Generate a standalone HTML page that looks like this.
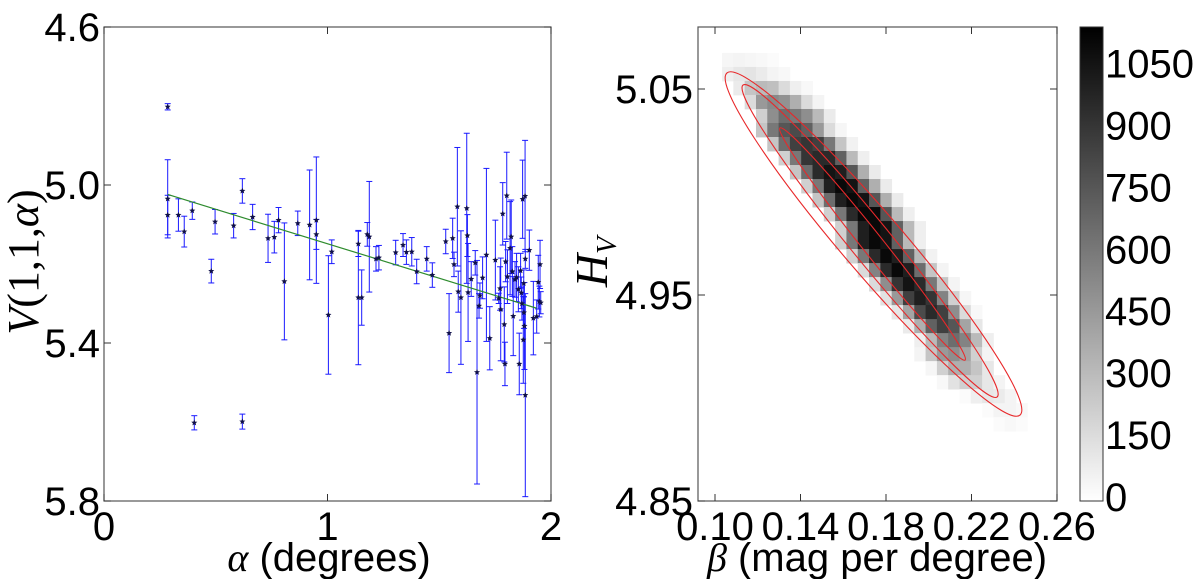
<!DOCTYPE html>
<html><head><meta charset="utf-8">
<style>
html,body{margin:0;padding:0;background:#fff;}
svg{display:block;font-family:"Liberation Sans","DejaVu Sans",sans-serif;}
</style></head>
<body>
<svg id="fig" width="1200" height="579" viewBox="0 0 1200 579" xmlns="http://www.w3.org/2000/svg">
<defs>
<linearGradient id="cbgrad" x1="0" y1="1" x2="0" y2="0">
<stop offset="0" stop-color="#ffffff"/><stop offset="1" stop-color="#000000"/>
</linearGradient>
</defs>
<g id="left"></g>
<g id="right"></g>
</svg>
<script>
// ---------- Left chart data ----------
const alphaVals = [0.285,0.285,0.285,0.333,0.359,0.395,0.404,0.480,0.497,0.580,0.619,0.619,0.665,0.734,0.762,0.781,0.807,0.867,0.920,0.950,0.950,1.004,1.019,1.138,1.138,1.153,1.178,1.187,1.217,1.230,1.305,1.338,1.353,1.377,1.399,1.444,1.469,1.529,1.544,1.560,1.566,1.581,1.585,1.597,1.623,1.626,1.629,1.643,1.661,1.669,1.678,1.682,1.694,1.711,1.726,1.751,1.766,1.772,1.775,1.784,1.791,1.794,1.797,1.802,1.805,1.817,1.822,1.827,1.831,1.839,1.846,1.854,1.858,1.864,1.867,1.870,1.873,1.876,1.878,1.879,1.881,1.884,1.885,1.885,1.903,1.921,1.936,1.943,1.948,1.951,1.954];
const magVals = [4.802,5.035,5.076,5.076,5.118,5.065,5.602,5.218,5.093,5.103,5.015,5.599,5.081,5.135,5.132,5.089,5.244,5.097,5.101,5.089,5.125,5.329,5.169,5.149,5.285,5.285,5.125,5.131,5.187,5.184,5.171,5.152,5.170,5.169,5.219,5.187,5.228,5.143,5.375,5.135,5.201,5.055,5.270,5.285,5.059,5.128,5.272,5.238,5.197,5.474,5.306,5.280,5.235,5.177,5.388,5.190,5.287,5.262,5.315,5.073,5.353,5.453,5.194,5.027,5.232,5.160,5.131,5.219,5.332,5.239,5.234,5.264,5.453,5.217,5.273,5.300,5.036,5.392,5.249,5.323,5.357,5.028,5.187,5.532,5.165,5.337,5.333,5.246,5.295,5.201,5.298];
const magErr = [0.008,0.099,0.05,0.041,0.039,0.022,0.018,0.030,0.031,0.031,0.031,0.019,0.032,0.061,0.040,0.032,0.148,0.031,0.139,0.160,0.038,0.150,0.030,0.032,0.170,0.070,0.030,0.140,0.031,0.031,0.031,0.029,0.031,0.036,0.031,0.031,0.031,0.031,0.100,0.051,0.031,0.150,0.052,0.169,0.190,0.053,0.124,0.044,0.031,0.283,0.031,0.032,0.053,0.219,0.080,0.101,0.013,0.055,0.130,0.079,0.095,0.055,0.051,0.110,0.068,0.118,0.093,0.063,0.100,0.045,0.061,0.057,0.078,0.044,0.040,0.042,0.099,0.110,0.034,0.040,0.110,0.141,0.024,0.257,0.051,0.093,0.042,0.068,0.039,0.061,0.028];
const fitAlpha = [0.285, 1.936];
const fitMag = [5.024, 5.312];
const leftXTicks = [0, 1, 2];
const leftXTickLabels = ["0", "1", "2"];
const leftYTicks = [4.6, 5.0, 5.4, 5.8];
const leftYTickLabels = ["4.6", "5.0", "5.4", "5.8"];

// ---------- Right chart data ----------
const heatRowStart = [0,0,1,2,3,3,4,5,6,7,8,9,10,10,11,12,13,14,15,16,17,17,18,19,21,23,24];
const heatRowCounts = [
 [30,40,30,20,10],
 [60,100,110,80,40,20],
 [80,250,300,280,150,60,20],
 [150,450,520,480,350,150,40],
 [200,500,650,600,500,300,80],
 [250,600,750,800,700,450,150,30],
 [250,650,850,900,850,600,250,50],
 [200,600,900,950,950,700,300,60],
 [250,650,950,1050,1000,750,350,80],
 [200,600,1000,1100,1050,700,350,80],
 [250,650,1000,1100,1050,750,350,80],
 [200,600,950,1100,1100,750,300,60],
 [200,600,1000,1100,1050,700,300,60],
 [200,600,1000,1100,1050,700,300,60],
 [200,600,950,1100,1000,700,300,50],
 [150,550,950,1100,1000,650,250,40],
 [150,500,900,1050,950,600,250,40],
 [120,450,850,1000,900,550,200,30],
 [100,400,800,950,850,500,150,20],
 [80,350,700,850,750,400,100],
 [60,300,550,650,550,300,60],
 [40,250,450,500,400,200,40],
 [30,200,350,350,250,100],
 [20,120,200,200,100,40],
 [10,60,100,80,40],
 [10,40,40,20],
 [10,20,10]
];
const heatBetaStart = 0.1033, heatBetaStep = 0.00529;
const heatHTop = 5.0675, heatHStep = 0.0068;
// contour ellipses: major-axis end points (beta,H) and horizontal half-width (beta units)
const contourBetaA = [0.1056, 0.1131, 0.1304];
const contourHA = [5.0578, 5.0519, 5.0311];
const contourBetaB = [0.2427, 0.2320, 0.2170];
const contourHB = [4.8917, 4.9005, 4.9184];
const contourHalfWidth = [0.0187, 0.0122, 0.0063];
const rightXTicks = [0.10, 0.14, 0.18, 0.22, 0.26];
const rightXTickLabels = ["0.10", "0.14", "0.18", "0.22", "0.26"];
const rightYTicks = [4.85, 4.95, 5.05];
const rightYTickLabels = ["4.85", "4.95", "5.05"];
const cbTicks = [0,150,300,450,600,750,900,1050];
const cbTickLabels = ["0","150","300","450","600","750","900","1050"];
const cbMin = -10, cbMax = 1139;

const NS = "http://www.w3.org/2000/svg";
const FS = 40;
function mk(parent, tag, attrs, text){
  const e = document.createElementNS(NS, tag);
  for (const k in attrs) e.setAttribute(k, attrs[k]);
  if (text !== undefined) e.textContent = text;
  parent.appendChild(e);
  return e;
}

// ===== Left panel =====
const L = document.getElementById('left');
const LX0 = 104, LX1 = 551, LY0 = 27, LY1 = 501;
const lx = a => LX0 + (a - 0) / 2 * (LX1 - LX0);
const ly = v => LY0 + (v - 4.6) / 1.2 * (LY1 - LY0);

const lframe = mk(L, 'rect', {x:LX0, y:LY0, width:LX1-LX0, height:LY1-LY0, fill:'#fff', stroke:'#555', 'stroke-width':1.2});



for (let i = 0; i < alphaVals.length; i++) {
  const x = lx(alphaVals[i]);
  const y1 = ly(magVals[i] - magErr[i]), y2 = ly(magVals[i] + magErr[i]);
  const g = mk(L, 'g', {stroke:'#1a1aff', 'stroke-width':1, fill:'none'});
  
  
  mk(g, 'line', {x1:x, y1:y1, x2:x, y2:y2});
  mk(g, 'line', {x1:x-3, y1:y1, x2:x+3, y2:y1});
  mk(g, 'line', {x1:x-3, y1:y2, x2:x+3, y2:y2});
}
const fit = mk(L, 'line', {x1:lx(fitAlpha[0]), y1:ly(fitMag[0]), x2:lx(fitAlpha[1]), y2:ly(fitMag[1]), stroke:'#2e8b2e', 'stroke-width':1.2});


function starPts(cx, cy, R){
  let p = [];
  for (let k = 0; k < 10; k++) {
    const r = k % 2 ? R * 0.45 : R;
    const t = -Math.PI/2 + k * Math.PI/5;
    p.push((cx + r*Math.cos(t)).toFixed(2) + ',' + (cy + r*Math.sin(t)).toFixed(2));
  }
  return p.join(' ');
}
for (let i = 0; i < alphaVals.length; i++) {
  const s = mk(L, 'polygon', {points: starPts(lx(alphaVals[i]), ly(magVals[i]), 3.2), fill:'#10104a'});
  
  
}
for (let i = 0; i < leftXTicks.length; i++) {
  const x = lx(leftXTicks[i]);
  mk(L, 'line', {x1:x, y1:LY1, x2:x, y2:LY1-7, stroke:'#333'});
  mk(L, 'line', {x1:x, y1:LY0, x2:x, y2:LY0+7, stroke:'#333'});
  const t = mk(L, 'text', {x:x, y:540, 'font-size':FS, 'text-anchor':'middle', fill:'#000'}, leftXTickLabels[i]);
  
  
}
for (let i = 0; i < leftYTicks.length; i++) {
  const y = ly(leftYTicks[i]);
  mk(L, 'line', {x1:LX0, y1:y, x2:LX0+7, y2:y, stroke:'#333'});
  mk(L, 'line', {x1:LX1, y1:y, x2:LX1-7, y2:y, stroke:'#333'});
  const t = mk(L, 'text', {x:100, y:y+14, 'font-size':FS, 'text-anchor':'end', fill:'#000'}, leftYTickLabels[i]);
  
  
}
const lxl = mk(L, 'text', {x:329, y:571, 'font-size':FS, 'text-anchor':'middle', fill:'#000'});


mk(lxl, 'tspan', {'font-family':'Liberation Serif, serif', 'font-style':'italic'}, 'α');
mk(lxl, 'tspan', {}, ' (degrees)');
const lyl = mk(L, 'text', {x:0, y:0, 'font-size':44, 'text-anchor':'middle', fill:'#000', 'font-family':'Liberation Serif, serif', transform:'translate(38,262) rotate(-90)'});


mk(lyl, 'tspan', {'font-style':'italic'}, 'V');
mk(lyl, 'tspan', {}, '(1,1,');
mk(lyl, 'tspan', {'font-style':'italic'}, 'α');
mk(lyl, 'tspan', {}, ')');

// ===== Right panel =====
const R = document.getElementById('right');
const RX0 = 698, RX1 = 1057, RY0 = 27, RY1 = 501;
const rx = b => 715 + (b - 0.10) / 0.16 * (RX1 - 715);
const ry = h => RY1 - (h - 4.85) / 0.1 * 206;
const rframe = mk(R, 'rect', {x:RX0, y:RY0, width:RX1-RX0, height:RY1-RY0, fill:'#fff', stroke:'none'});


function gray(v){
  let f = (v - cbMin) / (cbMax - cbMin); f = Math.max(0, Math.min(1, f));
  const c = Math.round(255 * (1 - f));
  return `rgb(${c},${c},${c})`;
}
for (let r = 0; r < heatRowCounts.length; r++) {
  const row = heatRowCounts[r];
  for (let c = 0; c < row.length; c++) {
    const col = heatRowStart[r] + c;
    const b0 = heatBetaStart + col * heatBetaStep;
    const h0 = heatHTop - r * heatHStep;
    const x = rx(b0), y = ry(h0);
    const w = rx(b0 + heatBetaStep) - x, hgt = ry(h0 - heatHStep) - y;
    const cell = mk(R, 'rect', {x:x.toFixed(2), y:y.toFixed(2), width:(w+0.4).toFixed(2), height:(hgt+0.4).toFixed(2), fill:gray(row[c])});
    
    
  }
}
for (let i = 0; i < contourBetaA.length; i++) {
  const xa = rx(contourBetaA[i]), ya = ry(contourHA[i]);
  const xb = rx(contourBetaB[i]), yb = ry(contourHB[i]);
  const cx = (xa+xb)/2, cy = (ya+yb)/2;
  const a = Math.hypot(xb-xa, yb-ya)/2;
  const th = Math.atan2(yb-ya, xb-xa);
  const hwPx = rx(0.10 + contourHalfWidth[i]) - rx(0.10);
  const e = mk(R, 'ellipse', {cx:cx.toFixed(2), cy:cy.toFixed(2), rx:a.toFixed(2), ry:(hwPx*Math.sin(th)).toFixed(2), transform:`rotate(${(th*180/Math.PI).toFixed(2)} ${cx.toFixed(2)} ${cy.toFixed(2)})`, fill:'none', stroke:'#e8282a', 'stroke-width':1.1});
  
  
}
mk(R, 'rect', {x:RX0, y:RY0, width:RX1-RX0, height:RY1-RY0, fill:'none', stroke:'#555', 'stroke-width':1.2});
for (let i = 0; i < rightXTicks.length; i++) {
  const x = rx(rightXTicks[i]);
  mk(R, 'line', {x1:x, y1:RY1, x2:x, y2:RY1-7, stroke:'#333'});
  mk(R, 'line', {x1:x, y1:RY0, x2:x, y2:RY0+7, stroke:'#333'});
  const t = mk(R, 'text', {x:x, y:540, 'font-size':FS, 'text-anchor':'middle', fill:'#000'}, rightXTickLabels[i]);
  
  
}
for (let i = 0; i < rightYTicks.length; i++) {
  const y = ry(rightYTicks[i]);
  mk(R, 'line', {x1:RX0, y1:y, x2:RX0+7, y2:y, stroke:'#333'});
  mk(R, 'line', {x1:RX1, y1:y, x2:RX1-7, y2:y, stroke:'#333'});
  const t = mk(R, 'text', {x:693, y:y+14, 'font-size':FS, 'text-anchor':'end', fill:'#000'}, rightYTickLabels[i]);
  
  
}
const rxl = mk(R, 'text', {x:877, y:571, 'font-size':FS, 'text-anchor':'middle', fill:'#000'});


mk(rxl, 'tspan', {'font-family':'Liberation Serif, serif', 'font-style':'italic'}, 'β');
mk(rxl, 'tspan', {}, ' (mag per degree)');
const ryl = mk(R, 'text', {x:0, y:0, 'font-size':46, 'text-anchor':'middle', fill:'#000', 'font-family':'Liberation Serif, serif', 'font-style':'italic', transform:'translate(607,262) rotate(-90)'});


mk(ryl, 'tspan', {}, 'H');
mk(ryl, 'tspan', {'font-size':28, dy:9}, 'V');

const CBX = 1080, CBW = 23;
const cby = v => RY1 - (v - cbMin) / (cbMax - cbMin) * (RY1 - RY0);
const cb = mk(R, 'rect', {x:CBX, y:RY0, width:CBW, height:RY1-RY0, fill:'url(#cbgrad)', stroke:'#333', 'stroke-width':1});


for (let i = 0; i < cbTicks.length; i++) {
  const y = cby(cbTicks[i]);
  const t = mk(R, 'text', {x:1105, y:y+14, 'font-size':FS, 'text-anchor':'start', fill:'#000'}, cbTickLabels[i]);
  
  
}
</script>
</body></html>
